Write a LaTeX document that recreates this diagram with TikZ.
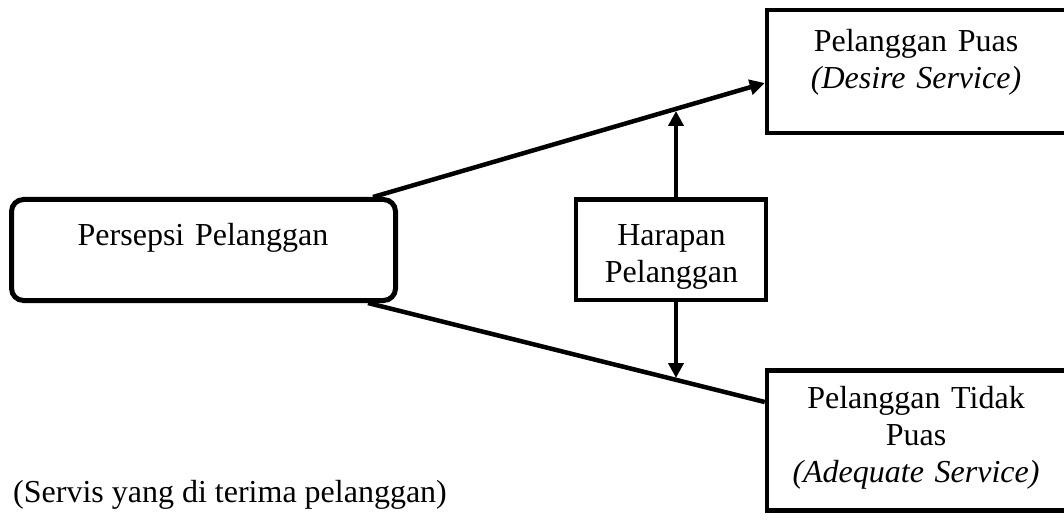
\documentclass[tikz,border=0pt]{standalone}
\usepackage{fontspec}
\setmainfont{Liberation Serif}
\usetikzlibrary{arrows.meta,calc}
\begin{document}
\begin{tikzpicture}[x=1pt,y=-1pt,
  box/.style={draw, line width=4.5pt, rectangle, inner sep=0pt},
  lbl/.style={font=\fontsize{32}{37}\selectfont, inner sep=0pt, text width=300pt, align=center, anchor=base},
  plainlbl/.style={font=\fontsize{32}{37}\selectfont, inner sep=0pt, anchor=base west},
  conn/.style={line width=4.5pt},
  arr/.style={conn, -{Triangle[length=15pt,width=15pt]}}]
\useasboundingbox (0,0) rectangle (1064,521);
% boxes
\node[box, rounded corners=12pt, line width=5pt, minimum width=384pt, minimum height=101pt] (persepsi) at (203.5,250) {};
\node[box, minimum width=308pt, minimum height=123pt] (puas) at (921,71.5) {};
\node[box, minimum width=190pt, minimum height=100.5pt] (harapan) at (671,249.75) {};
\node[box, minimum width=308pt, minimum height=140pt] (tidak) at (921,440.5) {};
% texts
\node[lbl] (tpersepsi) at (203,245) {Persepsi Pelanggan};
\node[lbl] (tpuas) at (916,52) {Pelanggan Puas\\\textit{(Desire Service)}};
\node[lbl] (tharapan) at (671.5,245) {Harapan\\Pelanggan};
\node[lbl] (ttidak) at (916,408) {Pelanggan Tidak\\Puas\\\textit{(Adequate Service)}};
\node[plainlbl] (servis) at (13,502) {(Servis yang di terima pelanggan)};
% connector end points
\coordinate (a1) at ($(persepsi.north east)+(-25,0)$);
\coordinate (a2) at ($(puas.west)+(0,11.5)$);
\coordinate (b1) at ($(persepsi.south east)+(-30,0)$);
\coordinate (b2) at ($(tidak.west)+(0,-38.5)$);
\coordinate (uptip) at (676,111);
\coordinate (dntip) at (676,378);
% connectors
\draw[arr] (a1) -- (a2);
\draw[conn] (b1) -- (b2);
\draw[arr] ($(harapan.north)+(5,0)$) -- (uptip);
\draw[arr] ($(harapan.south)+(5,0)$) -- (dntip);
\end{tikzpicture}
\end{document}
